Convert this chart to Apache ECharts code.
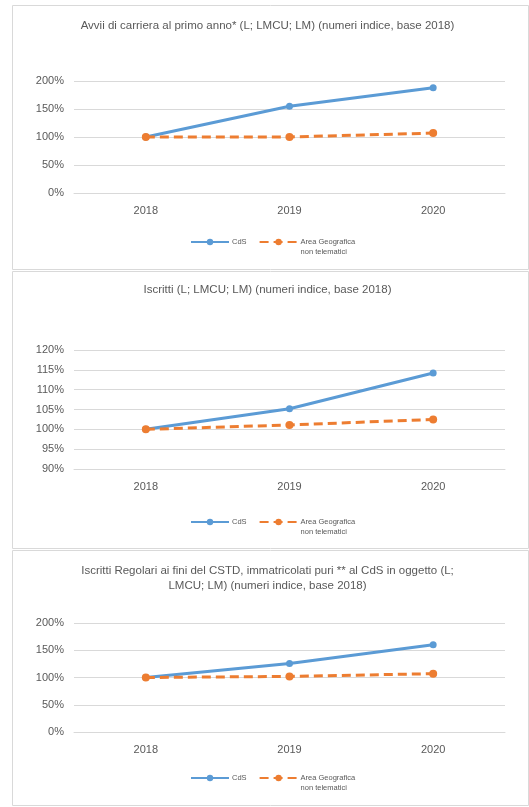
<!DOCTYPE html>
<html><head><meta charset="utf-8">
<script src="https://cdn.jsdelivr.net/npm/echarts@6/dist/echarts.min.js"></script>
<style>html,body{margin:0;padding:0;background:#fff}#c{width:529px;height:807px}</style>
</head><body><div id="c"></div>
<script>
const years = ['2018', '2019', '2020'];
const title1 = 'Avvii di carriera al primo anno* (L; LMCU; LM) (numeri indice, base 2018)';
const title2 = 'Iscritti (L; LMCU; LM) (numeri indice, base 2018)';
const title3 = 'Iscritti Regolari ai fini del CSTD, immatricolati puri ** al CdS in oggetto (L;\nLMCU; LM) (numeri indice, base 2018)';
const nameCdS = 'CdS';
const nameArea = 'Area Geografica non telematici';
const cds1 = [100, 155, 188];
const area1 = [100, 100, 107];
const cds2 = [100, 105.2, 114.2];
const area2 = [100, 101.1, 102.5];
const cds3 = [100, 125.6, 160];
const area3 = [100, 102, 107];
const yMin = [0, 90, 0];
const yMax = [200, 120, 200];
const yStep = [50, 5, 50];

const FONT = '"Liberation Sans", Arial, sans-serif';
const GREY = '#595959';
const LINE = '#d9d9d9';
const BLUE = '#5B9BD5';
const ORANGE = '#ED7D31';

const grids = [
  {left: 74, right: 24, top: 81, height: 112},
  {left: 74, right: 24, top: 350, height: 119},
  {left: 74, right: 24, top: 623, height: 109}
];
const legendTops = [242, 522, 778];
const cdsData = [cds1, cds2, cds3];
const areaData = [area1, area2, area3];

const chart = echarts.init(document.getElementById('c'), null, {renderer: 'canvas'});
const xAxis = [], yAxis = [], series = [], legend = [];
for (let i = 0; i < 3; i++) {
  xAxis.push({
    type: 'category', gridIndex: i, data: years, boundaryGap: true,
    axisLine: {show: true, lineStyle: {color: LINE, width: 1}},
    axisTick: {show: false},
    axisLabel: {color: GREY, fontSize: 11, fontFamily: FONT, margin: 12}
  });
  yAxis.push({
    type: 'value', gridIndex: i, min: yMin[i], max: yMax[i], interval: yStep[i],
    axisLine: {show: false}, axisTick: {show: false},
    splitLine: {lineStyle: {color: LINE, width: 1}},
    axisLabel: {color: GREY, fontSize: 11, fontFamily: FONT, margin: 10, formatter: '{value}%'}
  });
  series.push({
    name: nameCdS, type: 'line', xAxisIndex: i, yAxisIndex: i, data: cdsData[i],
    symbol: 'circle', symbolSize: 7, z: 3,
    lineStyle: {color: BLUE, width: 3}, itemStyle: {color: BLUE}
  });
  series.push({
    name: nameArea, type: 'line', xAxisIndex: i, yAxisIndex: i, data: areaData[i],
    symbol: 'circle', symbolSize: 8, z: 4,
    lineStyle: {color: ORANGE, width: 3, type: [9, 5]}, itemStyle: {color: ORANGE}
  });
  legend.push({
    top: legendTops[i] - 20, left: 185, orient: 'horizontal',
    itemWidth: 38, itemHeight: 8, itemGap: 12,
    selectedMode: false,
    textStyle: {color: GREY, fontSize: 7.5, fontFamily: FONT, lineHeight: 10, padding: [0, 0, 0, -2]},
    formatter: n => (n === nameArea ? '\nArea Geografica\nnon telematici' : n),
    data: [nameCdS, nameArea]
  });
}

const borders = [[12.5, 5.5, 516, 264], [12.5, 271.5, 516, 277], [12.5, 550.5, 516, 255]];
const graphic = borders.map(b => ({
  type: 'rect', shape: {x: b[0], y: b[1], width: b[2], height: b[3]},
  style: {fill: 'none', stroke: LINE, lineWidth: 1}, silent: true, z: -10
}));
const titleTexts = [title1, title2, title3];
const titleY = [25.5, 289.5, 578];
titleTexts.forEach((t, i) => graphic.push({
  type: 'text', x: 267.5, y: titleY[i],
  style: {text: t, fill: GREY, font: '11.5px ' + FONT, textAlign: 'center', textVerticalAlign: 'middle', lineHeight: 15}
}));

chart.setOption({
  animation: false,
  grid: grids,
  xAxis: xAxis,
  yAxis: yAxis,
  series: series,
  legend: legend,
  graphic: graphic
});
</script></body></html>
